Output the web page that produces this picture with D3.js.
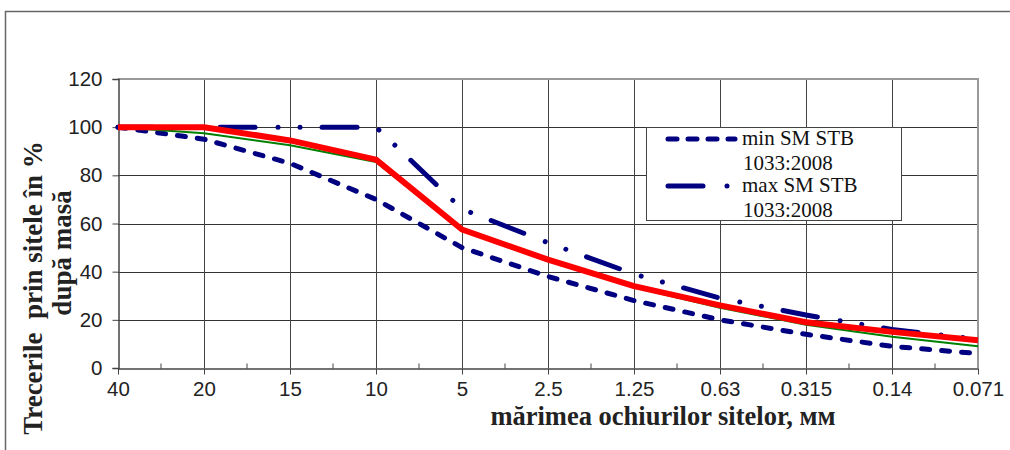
<!DOCTYPE html>
<html lang="ro">
<head>
<meta charset="UTF-8">
<title>Trecerile prin sitele</title>
<script src="https://d3js.org/d3.v7.min.js"></script>
<style>
    * { margin: 0; padding: 0 }
    body { background: #fff; }
</style>
</head>
<body>
<script>
    // categorii (marimea ochiurilor sitelor, mm)
    const sieves = ['40', '20', '15', '10', '5', '2.5', '1.25', '0.63', '0.315', '0.14', '0.071'];
    const yTicks = [0, 20, 40, 60, 80, 100, 120];
    // limite STB 1033:2008
    const minSM = [100, 95, 85, 70, 50, 38, 28, 20, 14, 9, 6];
    const maxSM = [100, 100, 100, 100, 66, 52, 39, 29, 22, 16, 12];
    // curbele amestecului
    const mixRed = [100, 100, 94.5, 86.5, 57.5, 45, 34, 26, 19, 15, 11.5];
    const mixGreen = [100, 97.5, 92.5, 85.5, 57, 44.5, 33.5, 25, 18, 13, 9];

    const W = 1010, H = 450;
    const svg = d3.select('body').append('svg')
        .attr('width', W)
        .attr('height', H);

    // rama exterioara
    svg.append('path')
        .attr('d', 'M5.5,450 V11.5 H1010')
        .attr('fill', 'none')
        .attr('stroke', '#666')
        .attr('stroke-width', 1.5);

    const x = d3.scalePoint().domain(sieves).range([118, 978]);
    const y = d3.scaleLinear().domain([0, 120]).range([368, 79]);

    // grila
    svg.append('g')
        .selectAll('line')
        .data(yTicks.filter(d => d > 0 && d < 120))
        .join('line')
        .attr('x1', 118).attr('x2', 978)
        .attr('y1', d => Math.round(y(d)) + 0.5).attr('y2', d => Math.round(y(d)) + 0.5)
        .attr('stroke', '#333');
    svg.append('g')
        .selectAll('line')
        .data(sieves.slice(1, -1))
        .join('line')
        .attr('x1', d => Math.round(x(d)) + 0.5).attr('x2', d => Math.round(x(d)) + 0.5)
        .attr('y1', y(120)).attr('y2', y(0))
        .attr('stroke', '#444');

    // marginea zonei de desen
    svg.append('path')
        .attr('d', `M118,${y(120)} H${x('0.071')} V${y(0)}`)
        .attr('fill', 'none')
        .attr('stroke', '#999')
        .attr('stroke-width', 2);

    const tickFont = 'Liberation Sans, Arial, sans-serif';
    const serif = 'Liberation Serif, Times New Roman, serif';

    // axa Y
    const yAxis = svg.append('g')
        .attr('transform', 'translate(118.5,0)')
        .call(d3.axisLeft(y).tickValues(yTicks).tickSize(6).tickPadding(10));
    yAxis.select('.domain').attr('stroke', '#444').attr('stroke-width', 1.5);
    yAxis.selectAll('.tick line').attr('stroke', '#444');
    yAxis.selectAll('text')
        .attr('font-family', tickFont)
        .attr('font-size', 20.5)
        .attr('fill', '#222');

    // axa X
    const xAxis = svg.append('g')
        .attr('transform', `translate(0,${y(0) + 0.5})`)
        .call(d3.axisBottom(x).tickSize(6).tickPadding(7).tickSizeOuter(0));
    xAxis.select('.domain').attr('stroke', '#444').attr('stroke-width', 1.5);
    xAxis.selectAll('.tick line').attr('stroke', '#444');
    xAxis.selectAll('text')
        .attr('font-family', tickFont)
        .attr('font-size', 20.5)
        .attr('fill', '#222');
    // gradatii intermediare
    const step = x.step();
    xAxis.append('g')
        .selectAll('line')
        .data(sieves.slice(0, -1))
        .join('line')
        .attr('x1', d => x(d) + step / 2).attr('x2', d => x(d) + step / 2)
        .attr('y1', 0).attr('y2', -5)
        .attr('stroke', '#444');

    // titluri axe
    svg.append('text')
        .attr('x', 663).attr('y', 425)
        .attr('text-anchor', 'middle')
        .attr('font-family', serif)
        .attr('font-weight', 'bold')
        .attr('font-size', 26.5)
        .attr('fill', '#222')
        .text('mărimea ochiurilor sitelor, мм');
    svg.append('text')
        .attr('transform', 'translate(42,288) rotate(-90)')
        .attr('text-anchor', 'middle')
        .attr('font-family', serif)
        .attr('font-weight', 'bold')
        .attr('font-size', 27)
        .attr('fill', '#222')
        .attr('xml:space', 'preserve')
        .text('Trecerile  prin sitele în %');
    svg.append('text')
        .attr('transform', 'translate(71,253) rotate(-90)')
        .attr('text-anchor', 'middle')
        .attr('font-family', serif)
        .attr('font-weight', 'bold')
        .attr('font-size', 27)
        .attr('fill', '#222')
        .text('după masă');

    // curbe
    const line = d3.line()
        .x((d, i) => x(sieves[i]))
        .y(d => y(d));

    const series = [
        { vals: minSM, color: '#000080', width: 5, dash: '8,12' },
        { vals: maxSM, color: '#000080', width: 5, dash: '35,23,0.01,22,0.01,22' },
        { vals: mixGreen, color: '#008000', width: 2, dash: null },
        { vals: mixRed, color: '#ff0000', width: 6, dash: null }
    ];
    svg.append('g')
        .selectAll('path')
        .data(series)
        .join('path')
        .attr('d', d => line(d.vals))
        .attr('fill', 'none')
        .attr('stroke', d => d.color)
        .attr('stroke-width', d => d.width)
        .attr('stroke-linecap', d => d.dash ? 'round' : 'butt')
        .attr('stroke-linejoin', 'round')
        .attr('stroke-dasharray', d => d.dash);

    // legenda
    const legend = svg.append('g');
    legend.append('rect')
        .attr('x', 646.5).attr('y', 127.5)
        .attr('width', 255).attr('height', 93)
        .attr('fill', '#fff')
        .attr('stroke', '#444');
    const legendItems = [
        { name: 'min SM STB', sub: '1033:2008', s: series[0], ly: 139 },
        { name: 'max SM STB', sub: '1033:2008', s: series[1], ly: 186 }
    ];
    legendItems.forEach(it => {
        legend.append('line')
            .attr('x1', 668).attr('x2', 735)
            .attr('y1', it.ly).attr('y2', it.ly)
            .attr('stroke', it.s.color)
            .attr('stroke-width', it.s.width)
            .attr('stroke-linecap', 'round')
            .attr('stroke-dasharray', it.s.dash === '8,12' ? '9,11' : '35,24,0.01,40');
        const t = legend.append('text')
            .attr('font-family', serif)
            .attr('font-size', 21)
            .attr('fill', '#111');
        t.append('tspan').attr('x', 742).attr('y', it.ly + 6).text(it.name);
        t.append('tspan').attr('x', 743).attr('y', it.ly + 31).text(it.sub);
    });
</script>
</body>
</html>
